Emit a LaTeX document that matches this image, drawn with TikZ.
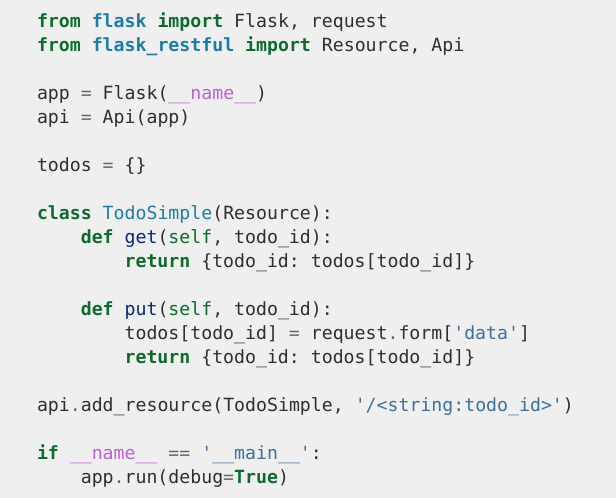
\documentclass[tikz,border=0pt]{standalone}
\usepackage{fontspec}
\setmonofont{DejaVu Sans Mono}
\definecolor{bgc}{HTML}{EFEFEF}
\definecolor{txc}{HTML}{2F2F2F}
\definecolor{kwc}{HTML}{0E6B2E}
\definecolor{nsc}{HTML}{1E7DA5}
\definecolor{opc}{HTML}{666666}
\definecolor{mgc}{HTML}{BB60D5}
\definecolor{stc}{HTML}{4070A0}
\definecolor{fnc}{HTML}{06287E}
\definecolor{bic}{HTML}{0E6B2E}
\newcommand\kw[1]{\textcolor{kwc}{\bfseries #1}}
\newcommand\ns[1]{\textcolor{nsc}{\bfseries #1}}
\newcommand\cl[1]{\textcolor{nsc}{#1}}
\newcommand\op[1]{\textcolor{opc}{#1}}
\newcommand\mg[1]{\textcolor{mgc}{#1}}
\newcommand\st[1]{\textcolor{stc}{#1}}
\newcommand\fn[1]{\textcolor{fnc}{#1}}
\newcommand\bi[1]{\textcolor{bic}{#1}}
\newcommand\cu{\char"5F\relax}
\newcommand\sq{\char39\relax}
\begin{document}
\begin{tikzpicture}[x=1pt,y=1pt,
  codeline/.style={anchor=base west, inner sep=0pt, outer sep=0pt,
    font=\ttfamily\fontsize{18.2}{24}\selectfont, text=txc}]
\fill[bgc] (0,0) rectangle (616,-498);
\useasboundingbox (0,0) rectangle (616,-498);
\def\cw{10.95}
\node[codeline] (l1) at (37,-27) {\kw{from} \ns{flask} \kw{import} Flask, request};
\node[codeline] (l2) at (37,-51) {\kw{from} \ns{flask\cu restful} \kw{import} Resource, Api};
\node[codeline] (l4) at (37,-99) {app \op{=} Flask(\mg{\cu\cu name\cu\cu})};
\node[codeline] (l5) at (37,-123) {api \op{=} Api(app)};
\node[codeline] (l7) at (37,-171) {todos \op{=} \{\}};
\node[codeline] (l9) at (37,-219) {\kw{class} \cl{TodoSimple}(Resource):};
\node[codeline] (l10) at (37+4*\cw,-243) {\kw{def} \fn{get}(\bi{self}, todo\cu id):};
\node[codeline] (l11) at (37+8*\cw,-267) {\kw{return} \{todo\cu id: todos[todo\cu id]\}};
\node[codeline] (l13) at (37+4*\cw,-315) {\kw{def} \fn{put}(\bi{self}, todo\cu id):};
\node[codeline] (l14) at (37+8*\cw,-339) {todos[todo\cu id] \op{=} request\op{.}form[\st{\sq data\sq}]};
\node[codeline] (l15) at (37+8*\cw,-363) {\kw{return} \{todo\cu id: todos[todo\cu id]\}};
\node[codeline] (l17) at (37,-411) {api\op{.}add\cu resource(TodoSimple, \st{\sq/<string:todo\cu id>\sq})};
\node[codeline] (l19) at (37,-459) {\kw{if} \mg{\cu\cu name\cu\cu} \op{==} \st{\sq\cu\cu main\cu\cu\sq}:};
\node[codeline] (l20) at (37+4*\cw,-483) {app\op{.}run(debug\op{=}\kw{True})};
\end{tikzpicture}
\end{document}
